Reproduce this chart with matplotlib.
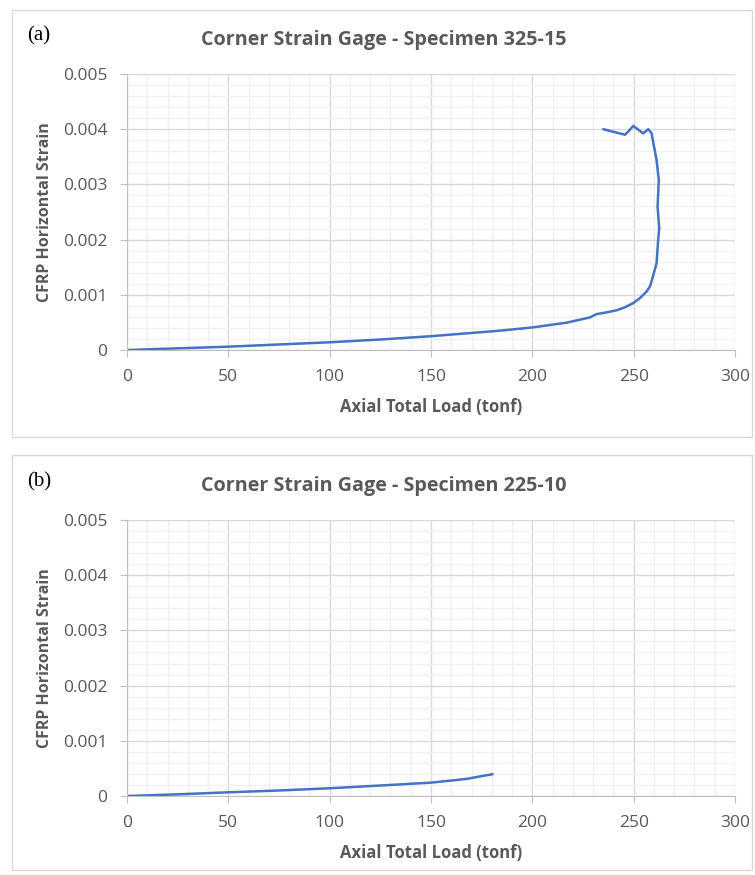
import matplotlib.pyplot as plt
from matplotlib.patches import Rectangle
from matplotlib.ticker import MultipleLocator

# specimen 325-15 (load tonf, strain)
load_a = [0, 25, 50, 75, 100, 125, 150, 184, 200.4, 216.9, 228.4, 231.7, 236.5,
          241.6, 245.5, 249.8, 253.1, 256.4, 258.0, 258.8, 259.7, 261.3, 262.1,
          262.6, 261.8, 262.4, 261.3, 258.8, 257.2, 254.7, 249.8, 247.3, 245.7, 235.0]
strain_a = [0, 0.00003, 0.00006, 0.0001, 0.00014, 0.00019, 0.00025, 0.00035,
            0.00041, 0.000495, 0.00059, 0.00065, 0.00068, 0.00072, 0.00077,
            0.00085, 0.00094, 0.00106, 0.00115, 0.00124, 0.00136, 0.00157,
            0.0020, 0.0022, 0.0026, 0.00308, 0.00344, 0.00393, 0.0040,
            0.003925, 0.00406, 0.003955, 0.0039, 0.0040]

# specimen 225-10
load_b = [0, 25, 50, 75, 100, 125, 150, 160, 167.6, 175, 180.4]
strain_b = [0, 0.00003, 0.000067, 0.0001, 0.00014, 0.00019, 0.000242, 0.00028,
            0.00031, 0.00036, 0.000395]

panels = [
    ("(a)", "Corner Strain Gage - Specimen 325-15", load_a, strain_a),
    ("(b)", "Corner Strain Gage - Specimen 225-10", load_b, strain_b),
]

W, H = 755, 875
fig = plt.figure(figsize=(W / 100, H / 100), dpi=100)
gray = '#595959'
sans = ['Open Sans', 'DejaVu Sans']

# px layout of each panel: box top/bottom, axes top/bottom
layout = [(10, 437, 74, 350), (455, 870, 520, 796)]

for (tag, title, x, y), (btop, bbot, atop, abot) in zip(panels, layout):
    fig.patches.append(Rectangle((12 / W, 1 - bbot / H), 740 / W, (bbot - btop) / H,
                                 transform=fig.transFigure, fill=False,
                                 edgecolor='#d9d9d9', linewidth=1))
    ax = fig.add_axes([127 / W, 1 - abot / H, (735 - 127) / W, (abot - atop) / H])
    ax.plot(x, y, color='#4472C4', linewidth=1.8, solid_capstyle='round',
            solid_joinstyle='round')
    ax.set_xlim(0, 300)
    ax.set_ylim(0, 0.005)
    ax.xaxis.set_major_locator(MultipleLocator(50))
    ax.xaxis.set_minor_locator(MultipleLocator(10))
    ax.yaxis.set_major_locator(MultipleLocator(0.001))
    ax.yaxis.set_minor_locator(MultipleLocator(0.0002))
    ax.grid(which='major', color='#d9d9d9', linewidth=1)
    ax.grid(which='minor', color='#f0f0f0', linewidth=1)
    ax.set_axisbelow(True)
    for s in ['top', 'right']:
        ax.spines[s].set_visible(False)
    for s in ['left', 'bottom']:
        ax.spines[s].set_color('#bfbfbf')
    ax.tick_params(which='major', length=5, color='#bfbfbf', labelcolor=gray,
                   labelsize=12.5)
    ax.tick_params(axis='x', pad=9)
    ax.tick_params(axis='y', pad=9)
    ax.tick_params(which='minor', length=0)
    ax.yaxis.set_major_formatter(plt.FuncFormatter(lambda v, p: '0' if v == 0 else f'{v:.3f}'))
    for lab in ax.get_xticklabels() + ax.get_yticklabels():
        lab.set_family(sans)
    ax.set_xlabel('Axial Total Load (tonf)', fontsize=12, fontweight='bold', color=gray,
                  family=sans, labelpad=9)
    ax.set_ylabel('CFRP Horizontal Strain', fontsize=11.5, fontweight='bold', color=gray,
                  family=sans, labelpad=7)
    fig.text(384 / W, 1 - (atop - 34) / H, title, ha='center', va='center',
             fontsize=14.2, fontweight='bold', color=gray, family=sans)
    fig.text(27 / W, 1 - (atop - 38) / H, tag, ha='left', va='center',
             fontsize=15, family='Liberation Serif', color='black')

fig.savefig('out.png', dpi=100)
